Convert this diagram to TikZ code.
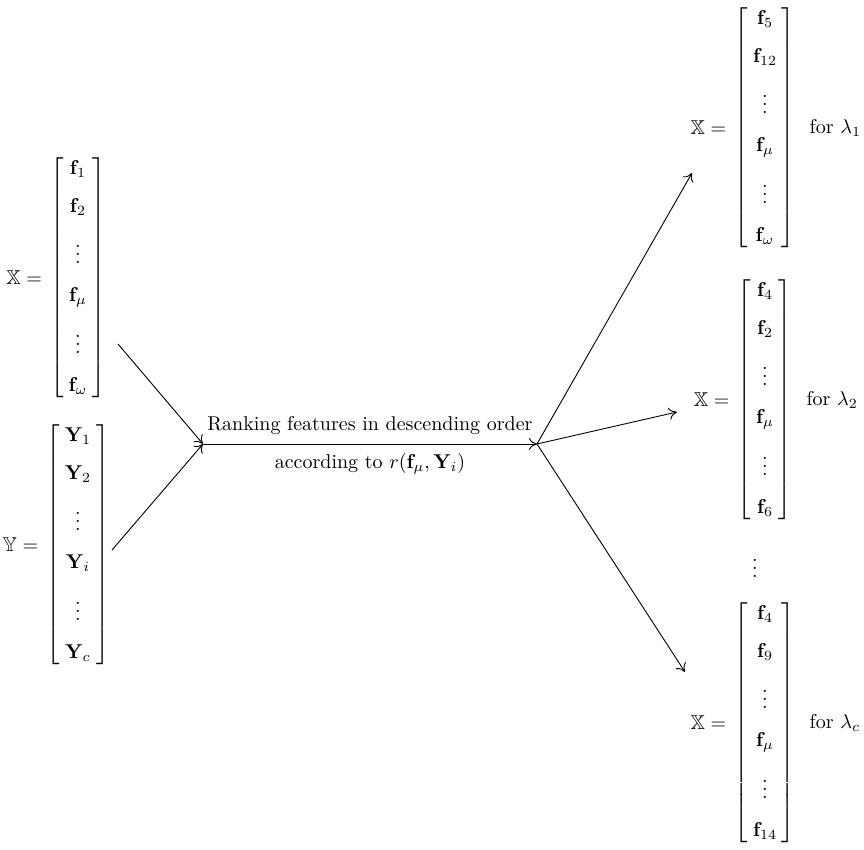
\documentclass[tikz,border=0pt]{standalone}
\usepackage{amsmath,amssymb}
\usepackage{tikz}
\usetikzlibrary{arrows.meta,positioning}
\setlength{\arraycolsep}{2.5pt}
\newcommand{\colvec}[1]{$\left[\begin{array}{c}#1\end{array}\right]$}

\begin{document}
\begin{tikzpicture}[x=0.5pt, y=-0.5pt,
  vecnode/.style={inner sep=0pt, outer sep=0pt},
  eqlabel/.style={inner sep=0pt},
  flow/.style={-{To[length=4pt,width=6pt]}, line width=0.45pt}]
  \useasboundingbox (0,0) rectangle (864,850);

  % Input feature vector X
  \node[vecnode] (xin) at (78,278) {\colvec{\mathbf{f}_1\\[7pt] \mathbf{f}_2\\[7pt] \vdots\\[7pt] \mathbf{f}_\mu\\[7pt] \vdots\\[7pt] \mathbf{f}_\omega}};
  \node[eqlabel, left=4pt of xin] (xinlab) {$\mathbb{X} =$};

  % Class vector Y
  \node[vecnode] (yin) at (78,545) {\colvec{\mathbf{Y}_1\\[7pt] \mathbf{Y}_2\\[7pt] \vdots\\[7pt] \mathbf{Y}_i\\[7pt] \vdots\\[7pt] \mathbf{Y}_c}};
  \node[eqlabel, left=4pt of yin] (yinlab) {$\mathbb{Y} =$};

  % Ranking step
  \coordinate (xout) at (118,344);
  \coordinate (yout) at (112,550);
  \coordinate (jl) at (203,444);
  \coordinate (jr) at (537,444);
  \draw[flow] (xout) -- (jl);
  \draw[flow] (yout) -- (jl);
  \draw[flow] (jl) -- (jr)
    node[midway, above=1pt] (rank) {Ranking features in descending order}
    node[midway, below=1pt] (crit) {according to $r(\mathbf{f}_\mu, \mathbf{Y}_i)$};

  % Ranked vectors, one per class
  \node[vecnode] (xa) at (765,128) {\colvec{\mathbf{f}_5\\[7pt] \mathbf{f}_{12}\\[7pt] \vdots\\[7pt] \mathbf{f}_\mu\\[7pt] \vdots\\[7pt] \mathbf{f}_\omega}};
  \node[eqlabel, left=4pt of xa] (xalab) {$\mathbb{X} =$};
  \node[eqlabel, right=7pt of xa] (xafor) {for $\lambda_1$};

  \node[vecnode] (xb) at (765,400) {\colvec{\mathbf{f}_4\\[7pt] \mathbf{f}_2\\[7pt] \vdots\\[7pt] \mathbf{f}_\mu\\[7pt] \vdots\\[7pt] \mathbf{f}_6}};
  \node[eqlabel, left=4pt of xb] (xblab) {$\mathbb{X} =$};
  \node[eqlabel, right=7pt of xb] (xbfor) {for $\lambda_2$};

  \node (more) at (755,562) {$\vdots$};

  \node[vecnode] (xc) at (765,723) {\colvec{\mathbf{f}_4\\[7pt] \mathbf{f}_9\\[7pt] \vdots\\[7pt] \mathbf{f}_\mu\\[7pt] \vdots\\[7pt] \mathbf{f}_{14}}};
  \node[eqlabel, left=4pt of xc] (xclab) {$\mathbb{X} =$};
  \node[eqlabel, right=7pt of xc] (xcfor) {for $\lambda_c$};

  % Fan out
  \coordinate (ea) at (692,173);
  \coordinate (eb) at (677,412);
  \coordinate (ec) at (685,672);
  \draw[flow] (jr) -- (ea);
  \draw[flow] (jr) -- (eb);
  \draw[flow] (jr) -- (ec);
\end{tikzpicture}
\end{document}
